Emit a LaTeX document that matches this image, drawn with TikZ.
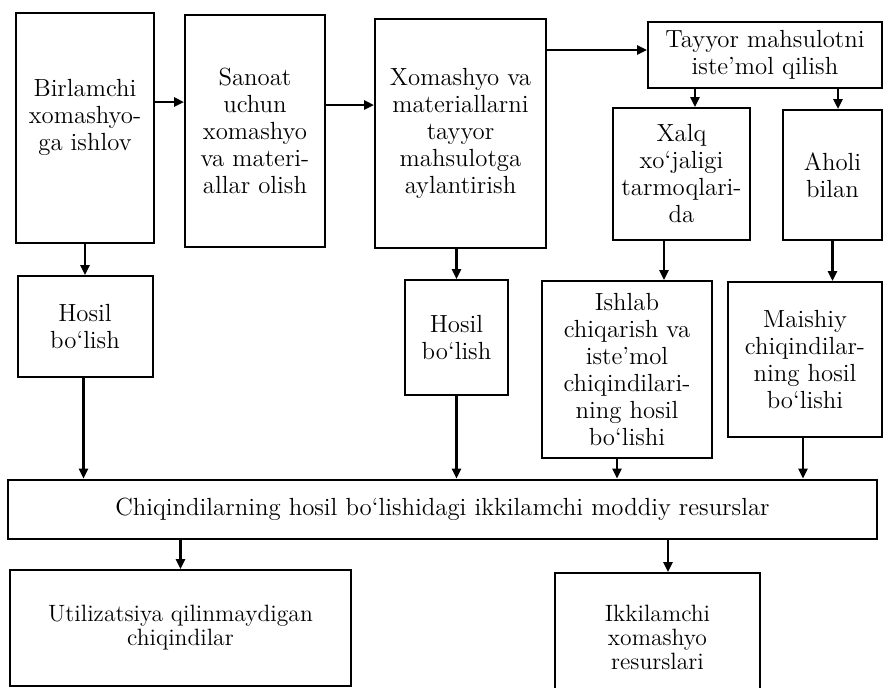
\documentclass[tikz,border=0pt]{standalone}
\usetikzlibrary{positioning, arrows.meta}

\begin{document}
\begin{tikzpicture}[x=0.5pt, y=-0.5pt, node distance=15.5pt, font=\fontsize{12.4}{13.5}\selectfont]
    \tikzstyle{block} = [rectangle, draw=black, line width=1pt, align=center, inner sep=2pt]
    \tikzstyle{low} = [font=\fontsize{11.8}{12}\selectfont]
    \tikzstyle{arr} = [line width=1.2pt, -{Triangle[length=5pt, width=4.5pt]}]
    \useasboundingbox (0,0) rectangle (884,687);
    \clip (0,0) rectangle (884,687);

    % upper row
    \node [block, minimum width=69pt, minimum height=115pt] (A) at (85,128) {Birlamchi\\xomashyo-\\ga ishlov\\~};
    \node [block, minimum width=70pt, minimum height=116pt] (B) at (255,131) {Sanoat\\uchun\\xomashyo\\va materi-\\allar olish};
    \node [block, minimum width=85.5pt, minimum height=114.5pt] (C) at (460.5,133.5) {Xomashyo va\\materiallarni\\tayyor\\mahsulotga\\aylantirish};
    \node [block, minimum width=117pt, minimum height=33pt] (D) at (765,55) {Tayyor mahsulotni\\iste'mol qilish};
    \node [block, minimum width=68.5pt, minimum height=66pt] (E) at (681.5,174) {Xalq\\xo`jaligi\\tarmoqlari-\\da};
    \node [block, minimum width=49.5pt, minimum height=65pt] (F) at (832.5,175) {Aholi\\bilan};

    % middle row
    \node [block, minimum width=67.5pt, minimum height=50.5pt, below = of A] (G1) {Hosil\\bo`lish};
    \node [block, minimum width=51.5pt, minimum height=57.5pt] (G2) at (456.5,337.5) {Hosil\\bo`lish};
    \node [block, minimum width=85pt, minimum height=88.5pt] (H) at (627,369.5) {Ishlab\\chiqarish va\\iste'mol\\chiqindilari-\\ning hosil\\bo`lishi};
    \node [block, minimum width=77pt, minimum height=77.5pt] (I) at (805,359.5) {Maishiy\\chiqindilar-\\ning hosil\\bo`lishi};

    % lower rows
    \node [block, minimum width=434.5pt, minimum height=29.5pt] (J) at (442.5,509) {Chiqindilarning hosil bo`lishidagi ikkilamchi moddiy resurslar};
    \node [block, low, minimum width=170.5pt, minimum height=58pt] (K) at (180.5,628) {Utilizatsiya qilinmaydigan\\chiqindilar};
    \node [block, low, minimum width=102.5pt, minimum height=64pt] (L) at (657.5,637) {Ikkilamchi\\xomashyo\\resurslari};

    \draw [arr] ([yshift=13pt]A.east) -- ([yshift=13pt]A.east -| B.west);
    \draw [arr] ([yshift=13pt]B.east) -- ([yshift=13pt]B.east -| C.west);
    \draw [arr] ([yshift=2.5pt]D.west -| C.east) -- ([yshift=2.5pt]D.west);
    \draw [arr] ([xshift=6.75pt]E.north |- D.south) -- ([xshift=6.75pt]E.north);
    \draw [arr] ([xshift=2.75pt]F.north |- D.south) -- ([xshift=2.75pt]F.north);
    \draw [arr] (A.south -| G1.north) -- (G1.north);
    \draw [arr] (C.south -| G2.north) -- (G2.north);
    \draw [arr] ([xshift=18.5pt]H.north |- E.south) -- ([xshift=18.5pt]H.north);
    \draw [arr] (F.south) -- (F.south |- I.north);

    \foreach \n/\s in {G1/-0.75pt, G2/0pt, H/-5pt, I/-1pt}
        \draw [arr] ([xshift=\s]\n.south) -- ([xshift=\s]\n.south |- J.north);

    \draw [arr] (J.south -| K.north) -- (K.north);
    \draw [arr] ([xshift=5.25pt]J.south -| L.north) -- ([xshift=5.25pt]L.north);
\end{tikzpicture}
\end{document}
